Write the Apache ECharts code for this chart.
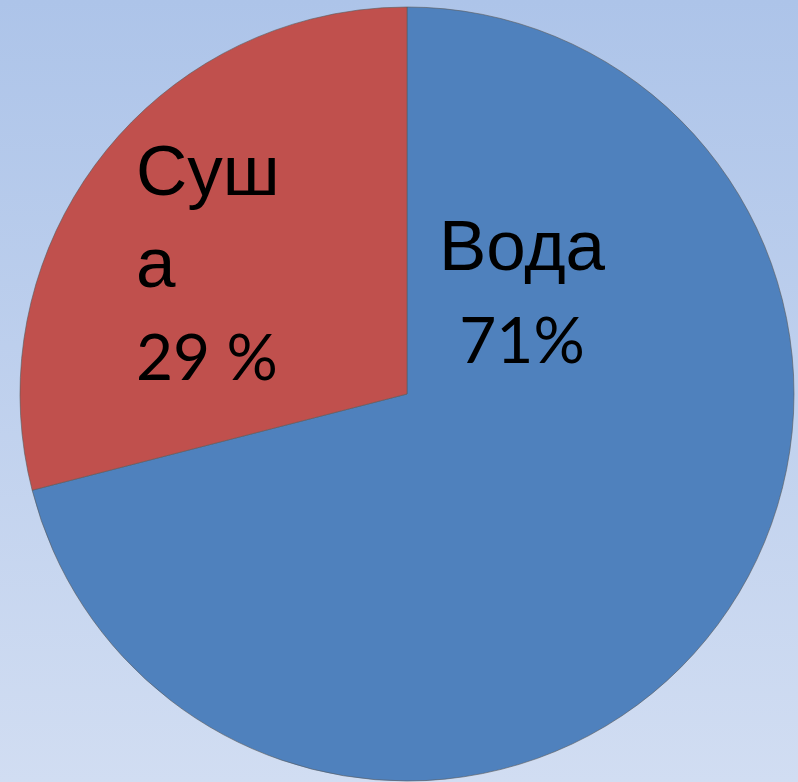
<!DOCTYPE html>
<html>
<head>
    <meta charset="utf-8">
    <title>Вода и суша</title>
    <script type="text/javascript" src="https://cdn.jsdelivr.net/npm/echarts@6/dist/echarts.min.js"></script>
    <style>
        html, body { margin: 0; padding: 0; }
    </style>
</head>
<body>
<div id="main" style="width: 798px;height:782px;"></div>

<script type="text/javascript">
    // данные
    var names = ['Вода', 'Суша'];
    var values = [71, 29];
    var labels = ['{a|Вода}\n{n|71%}', '{a|Суш}\n{a|а}\n{n|29 %}'];
    var colors = ['#4f81bd', '#c0504d'];

    var chart = echarts.init(document.getElementById('main'));

    var seriesData = names.map(function (n, i) {
        return {
            name: n,
            value: values[i],
            itemStyle: { color: colors[i] },
            label: { formatter: labels[i] }
        };
    });

    // куда ставим подписи
    var labelPos = [
        { x: 522, y: 296, align: 'center' },
        { x: 136, y: 267, align: 'left' }
    ];

    var option = {
        animation: false,
        backgroundColor: {
            type: 'linear', x: 0, y: 0, x2: 0, y2: 1,
            colorStops: [
                { offset: 0, color: '#adc4e9' },
                { offset: 1, color: '#d1ddf2' }
            ]
        },
        series: [
            {
                type: 'pie',
                center: [407, 394],
                radius: 387,
                startAngle: 90,
                clockwise: true,
                data: seriesData,
                itemStyle: {
                    borderColor: 'rgba(90,90,90,0.6)',
                    borderWidth: 1
                },
                label: {
                    show: true,
                    position: 'inside',
                    color: '#000',
                    rich: {
                        a: { fontFamily: 'Liberation Sans, Arial, sans-serif', fontSize: 71, lineHeight: 92, color: '#000' },
                        n: { fontFamily: 'Lato, sans-serif', fontSize: 64, lineHeight: 92, color: '#000' }
                    }
                },
                labelLine: { show: false },
                labelLayout: function (params) {
                    var p = labelPos[params.dataIndex];
                    return { x: p.x, y: p.y, align: p.align, verticalAlign: 'middle' };
                }
            }
        ]
    };
    chart.setOption(option);
</script>
</body>
</html>
